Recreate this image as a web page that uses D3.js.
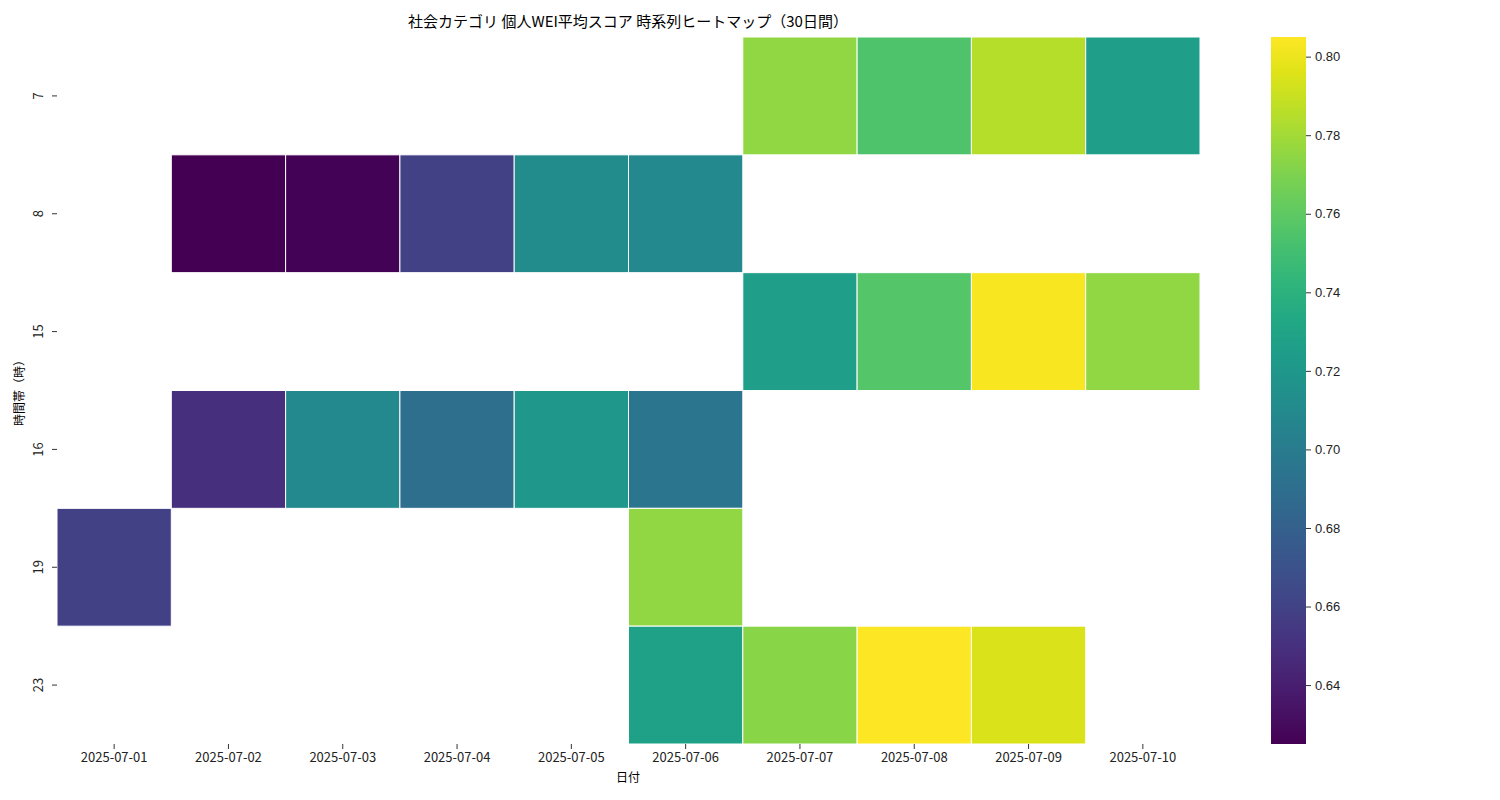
<!DOCTYPE html><html><head><meta charset="utf-8">
<script src="https://cdn.jsdelivr.net/npm/d3@7"></script>
<style>body{margin:0;background:#fff;font-family:"Noto Sans CJK JP","Noto Sans",sans-serif}</style></head><body>
<svg id="c" width="1500" height="800"></svg>
<script>
const dates=["2025-07-01","2025-07-02","2025-07-03","2025-07-04","2025-07-05","2025-07-06","2025-07-07","2025-07-08","2025-07-09","2025-07-10"];
const hours=["7","8","15","16","19","23"];
const cells=[
["7","2025-07-07",0.775],["7","2025-07-08",0.755],["7","2025-07-09",0.785],["7","2025-07-10",0.725],
["8","2025-07-02",0.625],["8","2025-07-03",0.626],["8","2025-07-04",0.66],["8","2025-07-05",0.712],["8","2025-07-06",0.71],
["15","2025-07-07",0.725],["15","2025-07-08",0.757],["15","2025-07-09",0.803],["15","2025-07-10",0.775],
["16","2025-07-02",0.65],["16","2025-07-03",0.71],["16","2025-07-04",0.69],["16","2025-07-05",0.72],["16","2025-07-06",0.695],
["19","2025-07-01",0.66],["19","2025-07-06",0.775],
["23","2025-07-06",0.727],["23","2025-07-07",0.773],["23","2025-07-08",0.805],["23","2025-07-09",0.795]];
const cbTicks=[0.64,0.66,0.68,0.70,0.72,0.74,0.76,0.78,0.80];
const vmin=0.625,vmax=0.805;
const svg=d3.select("#c");
const x=d3.scaleBand().domain(dates).range([57,1200]);
const y=d3.scaleBand().domain(hours).range([37,744]);
const col=d3.scaleSequential(d3.interpolateViridis).domain([vmin,vmax]);
svg.selectAll("rect.c").data(cells).join("rect").attr("x",d=>x(d[1])).attr("y",d=>y(d[0]))
 .attr("width",x.bandwidth()).attr("height",y.bandwidth()).attr("fill",d=>col(d[2])).attr("stroke","#fff").attr("stroke-width",1);
const xa=svg.append("g").attr("transform","translate(0,744)").call(d3.axisBottom(x).tickSize(5).tickPadding(4));
const ya=svg.append("g").attr("transform","translate(57,0)").call(d3.axisLeft(y).tickSize(5).tickPadding(4));
[xa,ya].forEach(a=>{a.select(".domain").remove();a.selectAll("text").attr("font-size",13).attr("fill","#222").attr("font-family","Noto Sans CJK JP");a.selectAll("line").attr("stroke","#333");});
ya.selectAll("text").attr("transform",function(){const t=d3.select(this);return null}).each(function(){const t=d3.select(this);t.attr("text-anchor","middle").attr("dy",0).attr("x",0).attr("transform","translate(-14,0) rotate(-90)").attr("dominant-baseline","auto");});
svg.append("text").attr("x",628).attr("y",782).attr("text-anchor","middle").attr("font-size",12).text("日付");
svg.append("text").attr("transform","translate(24,390) rotate(-90)").attr("text-anchor","middle").attr("font-size",12).text("時間帯（時）");
svg.append("text").attr("x",628).attr("y",27).attr("text-anchor","middle").attr("font-size",15).text("社会カテゴリ 個人WEI平均スコア 時系列ヒートマップ（30日間）");
const cy=d3.scaleLinear().domain([vmin,vmax]).range([744,37]);
const defs=svg.append("defs");const g=defs.append("linearGradient").attr("id","g").attr("x1",0).attr("y1",1).attr("x2",0).attr("y2",0);
d3.range(0,1.001,0.05).forEach(t=>g.append("stop").attr("offset",t).attr("stop-color",d3.interpolateViridis(t)));
svg.append("rect").attr("x",1271).attr("y",37).attr("width",35).attr("height",707).attr("fill","url(#g)");
const ca=svg.append("g").attr("transform","translate(1306,0)").call(d3.axisRight(cy).tickValues(cbTicks).tickFormat(d3.format(".2f")).tickSize(5).tickPadding(4));
ca.select(".domain").remove();ca.selectAll("text").attr("font-size",13).attr("fill","#222");ca.selectAll("line").attr("stroke","#333");
</script></body></html>
